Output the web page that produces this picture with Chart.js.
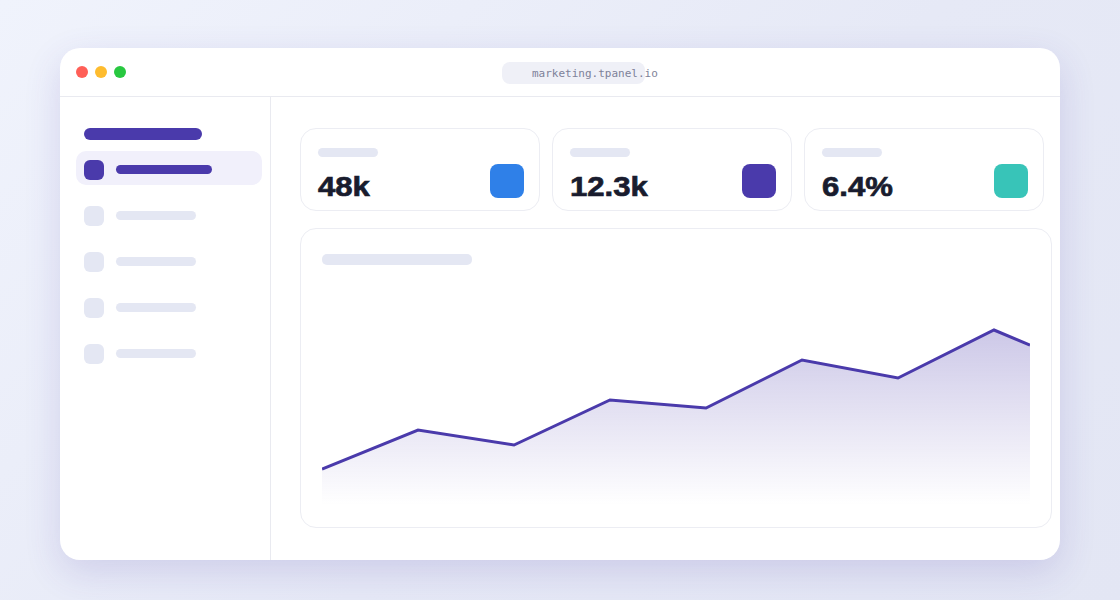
<!DOCTYPE html>
<html>
<head>
<meta charset="utf-8">
<title>tpanel marketing</title>
<script src="https://cdn.jsdelivr.net/npm/chart.js@4"></script>
<style>
  html, body { margin: 0; padding: 0; }
  body { width: 1120px; height: 600px; overflow: hidden; position: relative;
         background: linear-gradient(135deg, #f0f3fc 0%, #e6e9f6 55%, #e3e6f4 100%); }
  .abs, .win, .win div, .win span, .win canvas { position: absolute; }
  .win { left: 60px; top: 48px; width: 1000px; height: 512px; background: #fff; border-radius: 20px;
         box-shadow: 0 12px 36px rgba(74, 58, 171, 0.16); }
  .hline { left: 0; top: 48px; width: 1000px; height: 1px; background: #e9eaf0; }
  .vline { left: 210px; top: 49px; width: 1px; height: 463px; background: #e9eaf0; }
  .dot { top: 18px; width: 12px; height: 12px; border-radius: 50%; }
  .pill { left: 442px; top: 14px; width: 143px; height: 22px; border-radius: 8px; background: #eff0f7; }
  .url { left: 472px; top: 18px; font: 11px "DejaVu Sans Mono", monospace; color: #7d8199; line-height: 15px; white-space: nowrap; opacity: 0.99; }
  .purple { background: #4a3aab; }
  .gray { background: #e4e7f3; }
  .active { left: 16px; top: 103px; width: 186px; height: 34px; border-radius: 10px; background: #f1f0fb; }
  .icon { left: 24px; width: 20px; height: 20px; border-radius: 6px; }
  .line { left: 56px; height: 9px; border-radius: 5px; }
  .card { top: 80px; width: 238px; height: 81px; border: 1px solid #ecedf3; border-radius: 16px; background: #fff; }
  .card .lab { left: 17px; top: 19px; width: 60px; height: 9px; border-radius: 5px; background: #e4e7f3; }
  .card .val { left: 17px; top: 42px; font: bold 28px "Liberation Sans", Arial, sans-serif; color: #171a2c;
               line-height: 32px; -webkit-text-stroke: 0.7px #171a2c; white-space: nowrap; opacity: 0.99;
               transform: scaleX(1.11); transform-origin: left center; }
  .card .sq { left: 189px; top: 35px; width: 34px; height: 34px; border-radius: 8px; }
  .panel { left: 240px; top: 180px; width: 750px; height: 298px; border: 1px solid #ecedf3; border-radius: 16px; background: #fff; }
  .ptitle { left: 262px; top: 206px; width: 150px; height: 11px; border-radius: 5px; background: #e4e7f3; }
  .chartbox { left: 262px; top: 252px; width: 708px; height: 205px; }
</style>
</head>
<body>
<div class="win">
  <div class="hline"></div>
  <div class="vline"></div>
  <div class="dot" style="left:16px;background:#ff5f57"></div>
  <div class="dot" style="left:35px;background:#febc2e"></div>
  <div class="dot" style="left:54px;background:#28c840"></div>
  <div class="pill"></div>
  <span class="url">marketing.tpanel.io</span>

  <div class="purple" style="left:24px;top:80px;width:118px;height:12px;border-radius:6px"></div>
  <div class="active"></div>
  <div class="icon purple" style="top:112px"></div>
  <div class="line purple" style="top:117px;width:96px"></div>
  <div class="icon gray" style="top:158px"></div>
  <div class="line gray" style="top:163px;width:80px"></div>
  <div class="icon gray" style="top:204px"></div>
  <div class="line gray" style="top:209px;width:80px"></div>
  <div class="icon gray" style="top:250px"></div>
  <div class="line gray" style="top:255px;width:80px"></div>
  <div class="icon gray" style="top:296px"></div>
  <div class="line gray" style="top:301px;width:80px"></div>

  <div id="cards"></div>

  <div class="panel"></div>
  <div class="ptitle"></div>
  <div class="chartbox"><canvas id="lineChart" width="708" height="205"></canvas></div>
</div>
<script>
  const kpiValues = ['48k', '12.3k', '6.4%'];
  const kpiColors = ['#2f80e8', '#4a3aab', '#38c4b8'];
  const periods = [0, 1, 2, 3, 4, 5, 6, 7, 7.375];
  const traffic = [36, 75, 60, 105, 97, 145, 127, 175, 160];

  const cards = document.getElementById('cards');
  kpiValues.forEach((v, i) => {
    const c = document.createElement('div');
    c.className = 'card';
    c.style.left = (240 + i * 252) + 'px';
    c.innerHTML = '<div class="lab"></div><span class="val">' + v + '</span>' +
      '<div class="sq" style="background:' + kpiColors[i] + '"></div>';
    cards.appendChild(c);
  });

  const ctxLine = document.getElementById('lineChart').getContext('2d');
  new Chart(ctxLine, {
    type: 'line',
    data: {
      datasets: [{
        data: periods.map((p, i) => ({ x: p, y: traffic[i] })),
        borderColor: '#4a3aab',
        borderWidth: 3,
        pointRadius: 0,
        tension: 0,
        fill: 'start',
        backgroundColor: (ctx) => {
          const g = ctx.chart.ctx.createLinearGradient(0, 30, 0, 205);
          g.addColorStop(0, 'rgba(74,58,171,0.28)');
          g.addColorStop(1, 'rgba(74,58,171,0)');
          return g;
        }
      }]
    },
    options: {
      responsive: false,
      animation: false,
      events: [],
      layout: { padding: 0 },
      scales: {
        x: { type: 'linear', display: false, min: 0, max: 7.375 },
        y: { display: false, min: 0, max: 205 }
      },
      plugins: {
        legend: { display: false },
        tooltip: { enabled: false }
      }
    }
  });
</script>
</body>
</html>
